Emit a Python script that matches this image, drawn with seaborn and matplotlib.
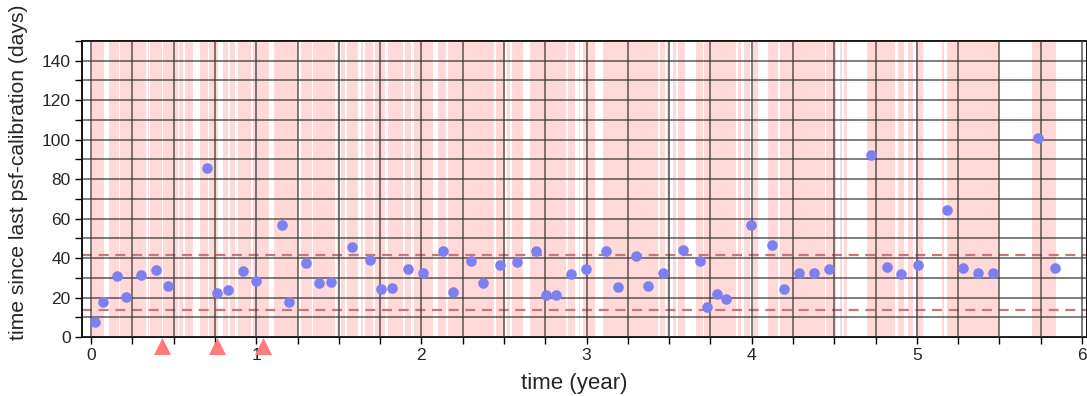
import matplotlib
matplotlib.use("Agg")
import matplotlib.pyplot as plt
from matplotlib.ticker import MultipleLocator
import numpy as np
import pandas as pd
import seaborn as sns

# Calibration epochs (years) and the gap since the previous one (days)
cal_time = [0.024, 0.073, 0.157, 0.214, 0.300, 0.393, 0.468, 0.700, 0.761, 0.827,
            0.920, 0.999, 1.155, 1.201, 1.304, 1.379, 1.454, 1.581, 1.688, 1.755,
            1.825, 1.918, 2.009, 2.128, 2.191, 2.298, 2.372, 2.473, 2.576, 2.697,
            2.756, 2.816, 2.905, 2.998, 3.119, 3.188, 3.301, 3.370, 3.463, 3.584,
            3.689, 3.729, 3.790, 3.842, 3.998, 4.125, 4.196, 4.284, 4.375, 4.469,
            4.720, 4.819, 4.906, 5.007, 5.185, 5.282, 5.372, 5.461, 5.736, 5.835]
cal_gap_days = [7.5, 17.9, 30.8, 20.5, 31.5, 34.2, 25.9, 85.6, 22.2, 23.9,
                33.4, 28.4, 56.5, 17.9, 37.4, 27.2, 28.1, 45.8, 39.1, 24.4,
                25.0, 34.5, 32.5, 43.8, 23.0, 38.6, 27.4, 36.5, 37.9, 43.8,
                21.3, 21.3, 32.1, 34.5, 43.8, 25.2, 41.1, 25.9, 32.5, 44.3,
                38.4, 15.1, 21.8, 19.3, 56.7, 46.7, 24.5, 32.6, 32.6, 34.5,
                92.2, 35.5, 32.0, 36.7, 64.6, 35.2, 32.6, 32.5, 100.6, 35.2]

# Observing periods (years)
obs_start = [0.005, 0.109, 0.176, 0.343, 0.357, 0.438, 0.533, 0.571, 0.660, 0.717,
             0.801, 0.842, 0.892, 0.981, 1.108, 1.274, 1.345, 1.492, 1.516, 1.551,
             1.637, 1.661, 1.718, 1.799, 1.900, 1.955, 2.100, 2.162, 2.453, 2.518,
             2.548, 2.655, 2.887, 2.954, 2.978, 3.101, 3.442, 3.487, 3.521, 3.555,
             3.664, 3.713, 3.915, 3.955, 4.005, 4.101, 4.169, 4.452, 4.532, 4.557,
             4.698, 4.888, 4.945, 4.993, 5.150, 5.180, 5.698]
obs_end = [0.079, 0.171, 0.333, 0.353, 0.428, 0.525, 0.559, 0.620, 0.711, 0.771,
           0.832, 0.872, 0.971, 1.078, 1.254, 1.335, 1.480, 1.508, 1.536, 1.617,
           1.647, 1.708, 1.779, 1.890, 1.940, 2.073, 2.150, 2.437, 2.509, 2.534,
           2.615, 2.877, 2.933, 2.962, 3.053, 3.434, 3.475, 3.507, 3.541, 3.596,
           3.703, 3.905, 3.935, 3.992, 4.040, 4.161, 4.444, 4.508, 4.545, 4.579,
           4.868, 4.925, 4.979, 5.040, 5.162, 5.500, 5.842]

# Instrument events marked under the axis (years)
event_time = [0.432, 0.761, 1.044]

# Reference levels (days)
ref_levels = [41.7, 13.8]

sns.set_theme(style="white")
plt.rcParams["font.family"] = ["Liberation Sans", "DejaVu Sans"]

fig = plt.figure(figsize=(10.87, 3.96), dpi=100)
ax = fig.add_axes([0.0754, 0.149, 0.9246, 0.7475])

for s, e in zip(obs_start, obs_end):
    ax.axvspan(s, e, color="#ffd8d8", lw=0, zorder=0)

ax.set_axisbelow(False)
ax.xaxis.set_major_locator(MultipleLocator(1))
ax.xaxis.set_minor_locator(MultipleLocator(0.25))
ax.yaxis.set_major_locator(MultipleLocator(20))
ax.yaxis.set_minor_locator(MultipleLocator(10))
ax.grid(which="both", color="#333333", lw=1.1, alpha=0.8, zorder=1)

for lvl in ref_levels:
    ax.axhline(lvl, color="#c47878", lw=1.6, ls=(0, (4.5, 3)), alpha=1.0, zorder=2)

df = pd.DataFrame({"time": cal_time, "gap": cal_gap_days})
sns.scatterplot(data=df, x="time", y="gap", ax=ax, color="#7d80f0",
                s=58, linewidth=0, alpha=1.0, zorder=3)

ev = pd.DataFrame({"time": event_time, "y": [-4.6] * len(event_time)})
sns.scatterplot(data=ev, x="time", y="y", ax=ax, marker="^", color="#ff7a7a",
                s=150, linewidth=0, clip_on=False, zorder=5)

ax.set_xlim(-0.055, 6.03)
ax.set_ylim(0, 150)
ax.set_xticks([0, 1, 2, 3, 4, 5, 6])
ax.set_yticks(np.arange(0, 141, 20))

ax.set_xlabel("time (year)", fontsize=16)
ax.set_ylabel("time since last psf-calibration (days)", fontsize=15.2)
ax.xaxis.set_label_coords(0.49, -0.122)
ax.yaxis.set_label_coords(-0.0537, 0.557)

ax.tick_params(which="both", direction="out", color="black", width=1.0,
               length=5, labelsize=12.5, pad=3, bottom=True, left=True)
for side in ["left", "top", "bottom", "right"]:
    ax.spines[side].set_visible(True)
    ax.spines[side].set_color("black")
    ax.spines[side].set_linewidth(1.3)

fig.savefig("out.png", dpi=100)
